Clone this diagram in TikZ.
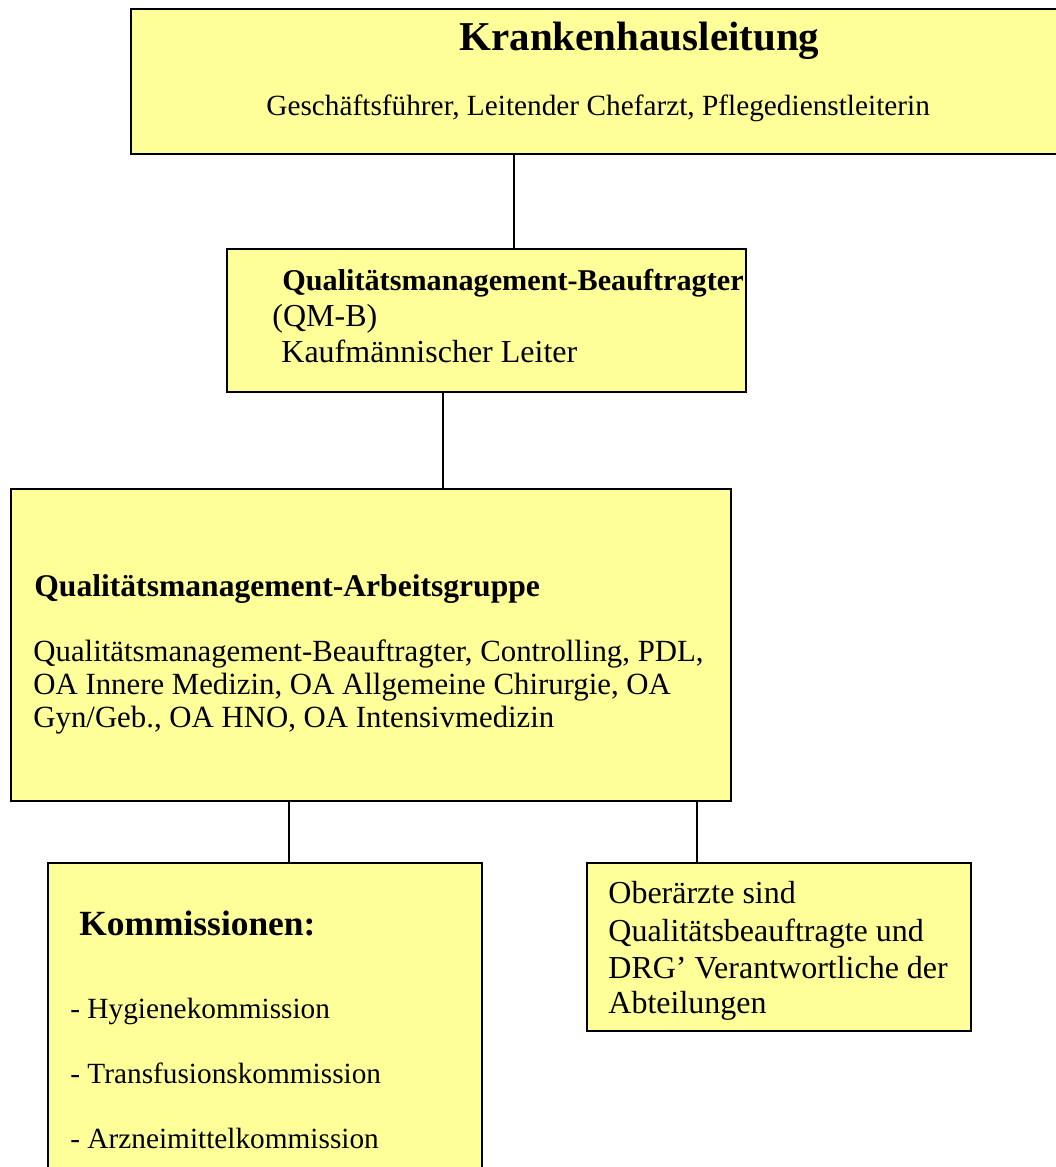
\documentclass[tikz,border=0pt]{standalone}
\usepackage{fontspec}
\setmainfont{Liberation Serif}
\usetikzlibrary{fit}

\definecolor{boxyellow}{RGB}{255,255,153}

\tikzset{
  orgbox/.style={draw, line width=1pt, fill=boxyellow, inner sep=0pt},
  txt/.style={anchor=base west, inner sep=0pt, font=\fontsize{#1}{#1}\selectfont},
  txt/.default=14.65,
  head/.style={anchor=base west, inner sep=0pt, font=\fontsize{#1}{#1}\selectfont\bfseries},
  head/.default=15.8,
  link/.style={line width=0.75pt}
}

\begin{document}
\begin{tikzpicture}[x=0.5pt,y=-0.5pt]
  \useasboundingbox (0,0) rectangle (1055,1167);

  % Kästen
  \node[orgbox, fit={(131,9) (1075,154)}] (kh) {};
  \node[orgbox, fit={(227,249) (746,392)}] (qmb) {};
  \node[orgbox, fit={(11,489) (731,801)}] (qmag) {};
  \node[orgbox, fit={(48,863) (482,1180)}] (kom) {};
  \node[orgbox, fit={(587,863) (971,1031)}] (oa) {};

  % Texte
  \node[head=20.5] (kh-title) at (459,50) {Krankenhausleitung};
  \node[txt] (kh-members) at (266,115) {Geschäftsführer, Leitender Chefarzt, Pflegedienstleiterin};

  \node[head=15.1] (qmb-title) at (282,290) {Qualitätsmanagement-Beauftragter};
  \node[txt=16] (qmb-short) at (272,326) {(QM-B)};
  \node[txt=16] (qmb-person) at (281,362) {Kaufmännischer Leiter};

  \node[head] (qmag-title) at (34,596) {Qualitätsmanagement-Arbeitsgruppe};
  \node[txt=15.4] (qmag-l1) at (33,661) {Qualitätsmanagement-Beauftragter, Controlling, PDL,};
  \node[txt=15.4] (qmag-l2) at (33,694) {OA Innere Medizin, OA Allgemeine Chirurgie, OA};
  \node[txt=15.4] (qmag-l3) at (33,727) {Gyn/Geb., OA HNO, OA Intensivmedizin};

  \node[head=17.7] (kom-title) at (79,935) {Kommissionen:};
  \node[txt] (kom-hyg) at (70,1018) {- Hygienekommission};
  \node[txt] (kom-trans) at (70,1083) {- Transfusionskommission};
  \node[txt] (kom-arz) at (70,1148) {- Arzneimittelkommission};

  \node[txt=16] (oa-l1) at (608,903) {Oberärzte sind};
  \node[txt=16] (oa-l2) at (608,941) {Qualitätsbeauftragte und};
  \node[txt=16] (oa-l3) at (608,978) {DRG’ Verantwortliche der};
  \node[txt=16] (oa-l4) at (608,1013) {Abteilungen};

  % Verbindungen
  \coordinate (x-kh) at (514,0);
  \coordinate (x-qmb) at (443,0);
  \coordinate (x-kom) at (289,0);
  \coordinate (x-oa) at (697,0);
  \draw[link] (kh.south -| x-kh) -- (qmb.north -| x-kh);
  \draw[link] (qmb.south -| x-qmb) -- (qmag.north -| x-qmb);
  \draw[link] (qmag.south -| x-kom) -- (kom.north -| x-kom);
  \draw[link] (qmag.south -| x-oa) -- (oa.north -| x-oa);
\end{tikzpicture}
\end{document}
